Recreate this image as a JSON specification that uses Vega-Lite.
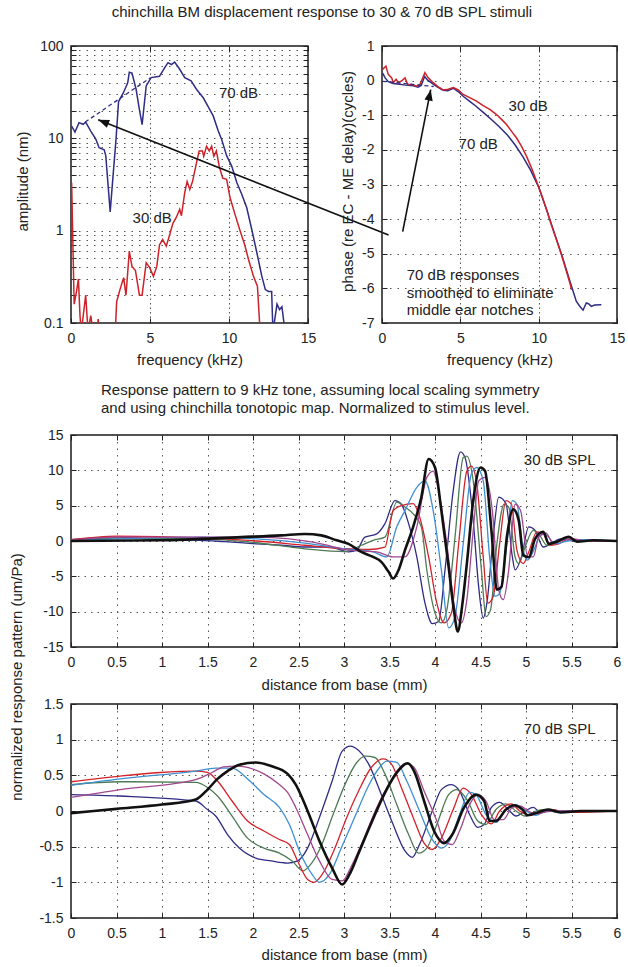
{
 "$schema": "https://vega.github.io/schema/vega-lite/v6.json",
 "padding": {"left": 8, "top": 5, "right": 5, "bottom": 5},
 "background": "white",
 "title": {"text": "chinchilla BM displacement response to 30 & 70 dB SPL stimuli", "anchor": "middle", "offset": 18, "dx": 5, "fontSize": 15, "fontWeight": "normal", "font": "Liberation Sans", "color": "#222"},
 "spacing": 14,
 "resolve": {"scale": {"color": "independent"}},
 "vconcat": [
  {"hconcat": [
   {"width": 237, "height": 277,
    "layer": [
     {"data": {"name": "ampl"}, "mark": {"type": "line", "clip": true, "strokeWidth": 1.5},
      "encoding": {
       "x": {"field": "f", "type": "quantitative", "scale": {"domain": [0, 15], "nice": false, "zero": false},
             "axis": {"values": [0, 5, 10, 15], "title": "frequency (kHz)", "titleX": 118.5, "titleY": 36, "titleBaseline": "middle", "labelExpr": "datum.value + ''", "gridDash": [1.5, 3]}},
       "y": {"field": "a", "type": "quantitative", "scale": {"type": "log", "domain": [0.1, 100], "nice": false},
             "axis": {"values": [0.1,0.2,0.3,0.4,0.5,0.6,0.7,0.8,0.9,1,2,3,4,5,6,7,8,9,10,20,30,40,50,60,70,80,90,100], "labelExpr": "indexof([0.1,1,10,100], datum.value) >= 0 ? datum.value + '' : ''", "title": "amplitude (nm)", "titleX": -49, "titleY": 135, "titleBaseline": "middle", "gridDash": [1.5, 6]}},
       "color": {"field": "level", "type": "nominal", "scale": {"domain": ["70 dB", "30 dB"], "range": ["#2E2C84", "#CC2229"]}, "legend": null}
      }},
     {"data": {"name": "amplsmooth"}, "mark": {"type": "line", "strokeWidth": 1.3, "strokeDash": [4, 3], "color": "#2E2C84"},
      "encoding": {"x": {"field": "f", "type": "quantitative", "axis": null}, "y": {"field": "a", "type": "quantitative", "axis": null}}},
     {"data": {"values": [{"f": 20.1, "a": 0.897}, {"f": 1.72, "a": 15.9}]}, "mark": {"type": "line", "clip": false, "strokeWidth": 1.6, "color": "#111"},
      "encoding": {"x": {"field": "f", "type": "quantitative", "axis": null}, "y": {"field": "a", "type": "quantitative", "axis": null}}},
     {"data": {"values": [{"f": 1.72, "a": 15.9}]}, "mark": {"type": "point", "shape": "M0,0L-0.38,1L0.38,1Z", "angle": 291.75, "size": 484, "filled": true, "color": "#111", "opacity": 1},
      "encoding": {"x": {"field": "f", "type": "quantitative", "axis": null}, "y": {"field": "a", "type": "quantitative", "axis": null}}},
     {"data": {"values": [{"f": 10.6, "a": 31, "label": "70 dB"}, {"f": 5.14, "a": 1.38, "label": "30 dB"}]}, "mark": {"type": "text", "fontSize": 15, "color": "#222"},
      "encoding": {
       "x": {"field": "f", "type": "quantitative", "axis": {"orient": "top", "values": [0, 5, 10, 15], "labels": false, "grid": false, "title": null}},
       "y": {"field": "a", "type": "quantitative", "axis": {"orient": "right", "values": [0.1,0.2,0.3,0.4,0.5,0.6,0.7,0.8,0.9,1,2,3,4,5,6,7,8,9,10,20,30,40,50,60,70,80,90,100], "labels": false, "grid": false, "title": null}},
       "text": {"field": "label"}}}
    ],
    "resolve": {"axis": {"x": "independent", "y": "independent"}}
   },
   {"width": 235, "height": 277,
    "layer": [
     {"data": {"name": "phase"}, "mark": {"type": "line", "clip": true, "strokeWidth": 1.5},
      "encoding": {
       "x": {"field": "f", "type": "quantitative", "scale": {"domain": [0, 15], "nice": false, "zero": false},
             "axis": {"values": [0, 5, 10, 15], "title": "frequency (kHz)", "titleX": 117.5, "titleY": 36, "titleBaseline": "middle", "labelExpr": "datum.value + ''", "gridDash": [1.5, 3]}},
       "y": {"field": "p", "type": "quantitative", "scale": {"domain": [-7, 1], "nice": false, "zero": false},
             "axis": {"values": [-7,-6,-5,-4,-3,-2,-1,0,1], "labelExpr": "datum.value + ''", "title": "phase (re EC - ME delay)(cycles)", "titleX": -35, "titleY": 135, "titleBaseline": "middle", "gridDash": [1.5, 6]}},
       "color": {"field": "level", "type": "nominal", "scale": {"domain": ["70 dB", "30 dB"], "range": ["#2E2C84", "#CC2229"]}, "legend": null}
      }},
     {"data": {"name": "phasesmooth"}, "mark": {"type": "line", "strokeWidth": 1.3, "strokeDash": [4, 3], "color": "#2E2C84"},
      "encoding": {"x": {"field": "f", "type": "quantitative", "axis": null}, "y": {"field": "p", "type": "quantitative", "axis": null}}},
     {"data": {"values": [{"f": 1.32, "p": -4.36}, {"f": 3.11, "p": -0.26}]}, "mark": {"type": "line", "clip": false, "strokeWidth": 1.6, "color": "#111"},
      "encoding": {"x": {"field": "f", "type": "quantitative", "axis": null}, "y": {"field": "p", "type": "quantitative", "axis": null}}},
     {"data": {"values": [{"f": 3.11, "p": -0.26}]}, "mark": {"type": "point", "shape": "M0,0L-0.38,1L0.38,1Z", "angle": 11.2, "size": 484, "filled": true, "color": "#111", "opacity": 1},
      "encoding": {"x": {"field": "f", "type": "quantitative", "axis": null}, "y": {"field": "p", "type": "quantitative", "axis": null}}},
     {"data": {"values": [{"f": 1.58, "p": -5.61, "label": "70 dB responses\nsmoothed to eliminate\nmiddle ear notches"}]}, "mark": {"type": "text", "fontSize": 15, "color": "#222", "align": "left", "baseline": "middle", "lineBreak": "\n", "lineHeight": 17.7},
      "encoding": {"x": {"field": "f", "type": "quantitative", "axis": null}, "y": {"field": "p", "type": "quantitative", "axis": null}, "text": {"field": "label"}}},
     {"data": {"values": [{"f": 9.33, "p": -0.72, "label": "30 dB"}, {"f": 6.14, "p": -1.84, "label": "70 dB"}]}, "mark": {"type": "text", "fontSize": 15, "color": "#222"},
      "encoding": {
       "x": {"field": "f", "type": "quantitative", "axis": {"orient": "top", "values": [0, 5, 10, 15], "labels": false, "grid": false, "title": null}},
       "y": {"field": "p", "type": "quantitative", "axis": {"orient": "right", "values": [-7,-6,-5,-4,-3,-2,-1,0,1], "labels": false, "grid": false, "title": null}},
       "text": {"field": "label"}}}
    ],
    "resolve": {"axis": {"x": "independent", "y": "independent"}}
   }
  ], "spacing": 74, "bounds": "flush"},
  {"vconcat": [
   {"width": 546, "height": 212,
    "title": {"text": ["Response pattern to 9 kHz tone, assuming local scaling symmetry", "and using chinchilla tonotopic map. Normalized to stimulus level."], "anchor": "start", "frame": "group", "dx": 30, "offset": 12, "fontSize": 15, "lineHeight": 18, "fontWeight": "normal", "color": "#222"},
    "layer": [
     {"data": {"name": "p30"}, "transform": [{"filter": "datum.t != 't6'"}], "mark": {"type": "line", "clip": true, "strokeWidth": 1.3, "interpolate": "monotone"},
      "encoding": {
       "x": {"field": "d", "type": "quantitative", "scale": {"domain": [0, 6], "nice": false, "zero": false},
             "axis": {"values": [0,0.5,1,1.5,2,2.5,3,3.5,4,4.5,5,5.5,6], "title": "distance from base (mm)", "titleX": 273, "titleY": 37, "titleBaseline": "middle", "labelExpr": "datum.value + ''"}},
       "y": {"field": "v", "type": "quantitative", "scale": {"domain": [-15, 15], "nice": false, "zero": false},
             "axis": {"values": [-15,-10,-5,0,5,10,15], "labelExpr": "datum.value + ''", "title": "normalized response pattern (um/Pa)", "titleX": -55, "titleY": 241.5, "titleBaseline": "middle"}},
       "color": {"field": "t", "type": "nominal", "scale": {"domain": ["t1", "t2", "t3", "t4", "t5"], "range": ["#2E2C84", "#4D7B55", "#D2232A", "#3D8FD1", "#A2478F"]}, "legend": null}
      }},
     {"data": {"name": "p30"}, "transform": [{"filter": "datum.t == 't6'"}], "mark": {"type": "line", "clip": true, "strokeWidth": 2.6, "color": "#111", "interpolate": "monotone"},
      "encoding": {"x": {"field": "d", "type": "quantitative", "axis": null}, "y": {"field": "v", "type": "quantitative", "axis": null}}},
     {"data": {"values": [{"d": 5.37, "v": 11.4, "label": "30 dB SPL"}]}, "mark": {"type": "text", "fontSize": 15, "color": "#222"},
      "encoding": {
       "x": {"field": "d", "type": "quantitative", "axis": {"orient": "top", "values": [0,0.5,1,1.5,2,2.5,3,3.5,4,4.5,5,5.5,6], "labels": false, "grid": false, "title": null}},
       "y": {"field": "v", "type": "quantitative", "axis": {"orient": "right", "values": [-15,-10,-5,0,5,10,15], "labels": false, "grid": false, "title": null}},
       "text": {"field": "label"}}}
    ],
    "resolve": {"axis": {"x": "independent", "y": "independent"}}
   },
   {"width": 546, "height": 214,
    "layer": [
     {"data": {"name": "p70"}, "transform": [{"filter": "datum.t != 't6'"}], "mark": {"type": "line", "clip": true, "strokeWidth": 1.3, "interpolate": "monotone"},
      "encoding": {
       "x": {"field": "d", "type": "quantitative", "scale": {"domain": [0, 6], "nice": false, "zero": false},
             "axis": {"values": [0,0.5,1,1.5,2,2.5,3,3.5,4,4.5,5,5.5,6], "title": "distance from base (mm)", "titleX": 273, "titleY": 36, "titleBaseline": "middle", "labelExpr": "datum.value + ''"}},
       "y": {"field": "v", "type": "quantitative", "scale": {"domain": [-1.5, 1.5], "nice": false, "zero": false},
             "axis": {"values": [-1.5,-1,-0.5,0,0.5,1,1.5], "labelExpr": "datum.value + ''", "title": null}},
       "color": {"field": "t", "type": "nominal", "scale": {"domain": ["t1", "t2", "t3", "t4", "t5"], "range": ["#2E2C84", "#4D7B55", "#D2232A", "#3D8FD1", "#A2478F"]}, "legend": null}
      }},
     {"data": {"name": "p70"}, "transform": [{"filter": "datum.t == 't6'"}], "mark": {"type": "line", "clip": true, "strokeWidth": 2.6, "color": "#111", "interpolate": "monotone"},
      "encoding": {"x": {"field": "d", "type": "quantitative", "axis": null}, "y": {"field": "v", "type": "quantitative", "axis": null}}},
     {"data": {"values": [{"d": 5.37, "v": 1.15, "label": "70 dB SPL"}]}, "mark": {"type": "text", "fontSize": 15, "color": "#222"},
      "encoding": {
       "x": {"field": "d", "type": "quantitative", "axis": {"orient": "top", "values": [0,0.5,1,1.5,2,2.5,3,3.5,4,4.5,5,5.5,6], "labels": false, "grid": false, "title": null}},
       "y": {"field": "v", "type": "quantitative", "axis": {"orient": "right", "values": [-1.5,-1,-0.5,0,0.5,1,1.5], "labels": false, "grid": false, "title": null}},
       "text": {"field": "label"}}}
    ],
    "resolve": {"axis": {"x": "independent", "y": "independent"}}
   }
  ], "spacing": 57, "bounds": "flush"}
 ],
 "datasets": {
  "ampl": [
   {"level":"70 dB","f":0.04,"a":13.6},{"level":"70 dB","f":0.25,"a":11.7},{"level":"70 dB","f":0.51,"a":14.8},{"level":"70 dB","f":0.76,"a":14.2},{"level":"70 dB","f":0.93,"a":15.0},{"level":"70 dB","f":1.25,"a":12.0},{"level":"70 dB","f":1.57,"a":9.8},{"level":"70 dB","f":1.78,"a":7.9},{"level":"70 dB","f":2.1,"a":7.5},{"level":"70 dB","f":2.2,"a":6.5},{"level":"70 dB","f":2.48,"a":1.6},{"level":"70 dB","f":2.68,"a":4.3},{"level":"70 dB","f":2.85,"a":9.8},{"level":"70 dB","f":3.01,"a":25},{"level":"70 dB","f":3.31,"a":31},{"level":"70 dB","f":3.59,"a":40},{"level":"70 dB","f":3.69,"a":52},{"level":"70 dB","f":3.86,"a":51},{"level":"70 dB","f":4.12,"a":34},{"level":"70 dB","f":4.33,"a":20.5},{"level":"70 dB","f":4.5,"a":14.1},{"level":"70 dB","f":4.76,"a":37},{"level":"70 dB","f":5.07,"a":45.5},{"level":"70 dB","f":5.6,"a":47},{"level":"70 dB","f":5.92,"a":58},{"level":"70 dB","f":6.14,"a":66},{"level":"70 dB","f":6.35,"a":63},{"level":"70 dB","f":6.56,"a":67},{"level":"70 dB","f":6.88,"a":56},{"level":"70 dB","f":7.2,"a":45.5},{"level":"70 dB","f":7.6,"a":42},{"level":"70 dB","f":7.94,"a":34},{"level":"70 dB","f":8.37,"a":27.5},{"level":"70 dB","f":8.68,"a":22},{"level":"70 dB","f":9.0,"a":17.5},{"level":"70 dB","f":9.32,"a":12},{"level":"70 dB","f":9.53,"a":9.8},{"level":"70 dB","f":9.85,"a":6.5},{"level":"70 dB","f":10.17,"a":5.0},{"level":"70 dB","f":10.5,"a":3.3},{"level":"70 dB","f":10.8,"a":2.5},{"level":"70 dB","f":11.12,"a":1.78},{"level":"70 dB","f":11.44,"a":1.03},{"level":"70 dB","f":11.76,"a":0.58},{"level":"70 dB","f":12.08,"a":0.32},{"level":"70 dB","f":12.3,"a":0.23},{"level":"70 dB","f":12.5,"a":0.22},{"level":"70 dB","f":12.7,"a":0.22},{"level":"70 dB","f":12.78,"a":0.08},{"level":"70 dB","f":13.04,"a":0.16},{"level":"70 dB","f":13.2,"a":0.14},{"level":"70 dB","f":13.35,"a":0.15},{"level":"70 dB","f":13.55,"a":0.08},
   {"level":"30 dB","f":0.04,"a":3.3},{"level":"30 dB","f":0.2,"a":0.16},{"level":"30 dB","f":0.35,"a":0.22},{"level":"30 dB","f":0.47,"a":0.3},{"level":"30 dB","f":0.57,"a":0.12},{"level":"30 dB","f":0.65,"a":0.08},{"level":"30 dB","f":0.93,"a":0.2},{"level":"30 dB","f":1.08,"a":0.08},{"level":"30 dB","f":1.25,"a":0.12},{"level":"30 dB","f":1.4,"a":0.08},{"level":"30 dB","f":1.65,"a":0.08},{"level":"30 dB","f":1.72,"a":0.11},{"level":"30 dB","f":1.8,"a":0.08},{"level":"30 dB","f":2.8,"a":0.08},{"level":"30 dB","f":2.89,"a":0.17},{"level":"30 dB","f":3.1,"a":0.23},{"level":"30 dB","f":3.33,"a":0.31},{"level":"30 dB","f":3.48,"a":0.2},{"level":"30 dB","f":3.69,"a":0.6},{"level":"30 dB","f":3.86,"a":0.41},{"level":"30 dB","f":4.08,"a":0.37},{"level":"30 dB","f":4.33,"a":0.2},{"level":"30 dB","f":4.5,"a":0.2},{"level":"30 dB","f":4.76,"a":0.45},{"level":"30 dB","f":4.97,"a":0.4},{"level":"30 dB","f":5.22,"a":0.32},{"level":"30 dB","f":5.43,"a":0.41},{"level":"30 dB","f":5.6,"a":0.7},{"level":"30 dB","f":5.8,"a":0.8},{"level":"30 dB","f":6.03,"a":0.68},{"level":"30 dB","f":6.28,"a":0.95},{"level":"30 dB","f":6.45,"a":1.2},{"level":"30 dB","f":6.67,"a":1.4},{"level":"30 dB","f":6.88,"a":1.7},{"level":"30 dB","f":6.99,"a":1.45},{"level":"30 dB","f":7.2,"a":2.6},{"level":"30 dB","f":7.35,"a":3.4},{"level":"30 dB","f":7.52,"a":2.8},{"level":"30 dB","f":7.69,"a":3.4},{"level":"30 dB","f":7.94,"a":5.4},{"level":"30 dB","f":8.11,"a":7.3},{"level":"30 dB","f":8.32,"a":7.3},{"level":"30 dB","f":8.4,"a":6.4},{"level":"30 dB","f":8.58,"a":8.2},{"level":"30 dB","f":8.75,"a":7.3},{"level":"30 dB","f":8.9,"a":8.2},{"level":"30 dB","f":9.04,"a":6.4},{"level":"30 dB","f":9.2,"a":7.3},{"level":"30 dB","f":9.38,"a":5.0},{"level":"30 dB","f":9.6,"a":3.7},{"level":"30 dB","f":9.85,"a":3.6},{"level":"30 dB","f":10.06,"a":2.3},{"level":"30 dB","f":10.38,"a":1.5},{"level":"30 dB","f":10.7,"a":1.0},{"level":"30 dB","f":11.0,"a":0.7},{"level":"30 dB","f":11.23,"a":0.49},{"level":"30 dB","f":11.55,"a":0.32},{"level":"30 dB","f":11.8,"a":0.25},{"level":"30 dB","f":11.97,"a":0.08}
  ],
  "amplsmooth": [{"f":0.9,"a":15},{"f":5.0,"a":45}],
  "phase": [
   {"level":"70 dB","f":0.04,"p":0.22},{"level":"70 dB","f":0.2,"p":0.08},{"level":"70 dB","f":0.4,"p":-0.03},{"level":"70 dB","f":0.7,"p":-0.08},{"level":"70 dB","f":1.0,"p":-0.1},{"level":"70 dB","f":1.5,"p":-0.13},{"level":"70 dB","f":2.0,"p":-0.15},{"level":"70 dB","f":2.3,"p":-0.19},{"level":"70 dB","f":2.5,"p":-0.14},{"level":"70 dB","f":2.72,"p":0.12},{"level":"70 dB","f":2.9,"p":0.02},{"level":"70 dB","f":3.2,"p":-0.08},{"level":"70 dB","f":3.5,"p":-0.17},{"level":"70 dB","f":3.9,"p":-0.28},{"level":"70 dB","f":4.2,"p":-0.29},{"level":"70 dB","f":4.55,"p":-0.22},{"level":"70 dB","f":4.9,"p":-0.33},{"level":"70 dB","f":5.2,"p":-0.46},{"level":"70 dB","f":5.6,"p":-0.6},{"level":"70 dB","f":6.0,"p":-0.74},{"level":"70 dB","f":6.5,"p":-0.93},{"level":"70 dB","f":7.0,"p":-1.13},{"level":"70 dB","f":7.5,"p":-1.34},{"level":"70 dB","f":8.0,"p":-1.57},{"level":"70 dB","f":8.5,"p":-1.86},{"level":"70 dB","f":9.0,"p":-2.2},{"level":"70 dB","f":9.5,"p":-2.6},{"level":"70 dB","f":10.0,"p":-3.08},{"level":"70 dB","f":10.5,"p":-3.72},{"level":"70 dB","f":11.0,"p":-4.4},{"level":"70 dB","f":11.5,"p":-5.07},{"level":"70 dB","f":12.0,"p":-5.8},{"level":"70 dB","f":12.4,"p":-6.37},{"level":"70 dB","f":12.6,"p":-6.5},{"level":"70 dB","f":12.83,"p":-6.63},{"level":"70 dB","f":13.04,"p":-6.42},{"level":"70 dB","f":13.2,"p":-6.45},{"level":"70 dB","f":13.36,"p":-6.52},{"level":"70 dB","f":13.57,"p":-6.48},{"level":"70 dB","f":14.0,"p":-6.47},
   {"level":"30 dB","f":0.04,"p":0.325},{"level":"30 dB","f":0.25,"p":0.42},{"level":"30 dB","f":0.4,"p":0.18},{"level":"30 dB","f":0.62,"p":0.08},{"level":"30 dB","f":0.72,"p":-0.06},{"level":"30 dB","f":0.9,"p":0.04},{"level":"30 dB","f":1.04,"p":-0.06},{"level":"30 dB","f":1.25,"p":-0.01},{"level":"30 dB","f":1.47,"p":0.08},{"level":"30 dB","f":1.64,"p":-0.11},{"level":"30 dB","f":1.9,"p":-0.11},{"level":"30 dB","f":2.2,"p":-0.16},{"level":"30 dB","f":2.42,"p":-0.11},{"level":"30 dB","f":2.74,"p":0.23},{"level":"30 dB","f":2.95,"p":0.08},{"level":"30 dB","f":3.27,"p":-0.06},{"level":"30 dB","f":3.59,"p":-0.18},{"level":"30 dB","f":3.91,"p":-0.27},{"level":"30 dB","f":4.23,"p":-0.25},{"level":"30 dB","f":4.55,"p":-0.2},{"level":"30 dB","f":4.87,"p":-0.27},{"level":"30 dB","f":5.18,"p":-0.4},{"level":"30 dB","f":5.6,"p":-0.49},{"level":"30 dB","f":6.03,"p":-0.59},{"level":"30 dB","f":6.46,"p":-0.72},{"level":"30 dB","f":6.88,"p":-0.83},{"level":"30 dB","f":7.31,"p":-0.98},{"level":"30 dB","f":7.63,"p":-1.12},{"level":"30 dB","f":7.95,"p":-1.27},{"level":"30 dB","f":8.26,"p":-1.46},{"level":"30 dB","f":8.58,"p":-1.65},{"level":"30 dB","f":8.9,"p":-1.89},{"level":"30 dB","f":9.22,"p":-2.18},{"level":"30 dB","f":9.54,"p":-2.52},{"level":"30 dB","f":9.86,"p":-2.9},{"level":"30 dB","f":10.18,"p":-3.29},{"level":"30 dB","f":10.5,"p":-3.72},{"level":"30 dB","f":10.81,"p":-4.16},{"level":"30 dB","f":11.13,"p":-4.59},{"level":"30 dB","f":11.45,"p":-5.02},{"level":"30 dB","f":11.77,"p":-5.51},{"level":"30 dB","f":12.02,"p":-5.89},{"level":"30 dB","f":12.1,"p":-6.04}
  ],
  "phasesmooth": [{"f":0.04,"p":-0.02},{"f":3.3,"p":-0.17}],
  "p30": [
   {"t":"t1","d":0,"v":0.2},{"t":"t1","d":0.5,"v":0.55},{"t":"t1","d":0.99,"v":0.2},{"t":"t1","d":1.43,"v":0.1},{"t":"t1","d":1.69,"v":-0.1},{"t":"t1","d":2.04,"v":-0.4},{"t":"t1","d":2.31,"v":-0.6},{"t":"t1","d":2.57,"v":-0.85},{"t":"t1","d":2.84,"v":-0.85},{"t":"t1","d":3.05,"v":-1.55},{"t":"t1","d":3.14,"v":-1.3},{"t":"t1","d":3.23,"v":0.55},{"t":"t1","d":3.36,"v":1.0},{"t":"t1","d":3.45,"v":2.45},{"t":"t1","d":3.56,"v":5.7},{"t":"t1","d":3.63,"v":5.2},{"t":"t1","d":3.71,"v":2.45},{"t":"t1","d":3.8,"v":-2.25},{"t":"t1","d":3.89,"v":-8.8},{"t":"t1","d":3.97,"v":-11.7},{"t":"t1","d":4.04,"v":-11.4},{"t":"t1","d":4.11,"v":-4.1},{"t":"t1","d":4.2,"v":7.1},{"t":"t1","d":4.28,"v":12.6},{"t":"t1","d":4.33,"v":11.8},{"t":"t1","d":4.42,"v":2.9},{"t":"t1","d":4.48,"v":-6.5},{"t":"t1","d":4.53,"v":-10.9},{"t":"t1","d":4.57,"v":-8.8},{"t":"t1","d":4.64,"v":0.6},{"t":"t1","d":4.7,"v":6.2},{"t":"t1","d":4.78,"v":5.3},{"t":"t1","d":4.85,"v":-2.25},{"t":"t1","d":4.88,"v":-4.1},{"t":"t1","d":4.95,"v":-2.25},{"t":"t1","d":5.03,"v":2.0},{"t":"t1","d":5.1,"v":1.5},{"t":"t1","d":5.19,"v":-0.85},{"t":"t1","d":5.27,"v":-0.4},{"t":"t1","d":5.38,"v":0.3},{"t":"t1","d":5.52,"v":0},{"t":"t1","d":6,"v":0},
   {"t":"t2","d":0,"v":0.1},{"t":"t2","d":0.5,"v":0.4},{"t":"t2","d":1.43,"v":0.3},{"t":"t2","d":2.04,"v":-0.25},{"t":"t2","d":2.57,"v":-1.1},{"t":"t2","d":3.01,"v":-1.5},{"t":"t2","d":3.19,"v":-0.6},{"t":"t2","d":3.32,"v":0.1},{"t":"t2","d":3.45,"v":0.55},{"t":"t2","d":3.58,"v":5.5},{"t":"t2","d":3.67,"v":4.8},{"t":"t2","d":3.76,"v":3.85},{"t":"t2","d":3.85,"v":2.0},{"t":"t2","d":3.91,"v":-4.1},{"t":"t2","d":4.0,"v":-10.2},{"t":"t2","d":4.07,"v":-11.6},{"t":"t2","d":4.13,"v":-9.75},{"t":"t2","d":4.22,"v":0.55},{"t":"t2","d":4.31,"v":11.8},{"t":"t2","d":4.35,"v":12.0},{"t":"t2","d":4.42,"v":8.5},{"t":"t2","d":4.51,"v":-4.1},{"t":"t2","d":4.56,"v":-10.7},{"t":"t2","d":4.61,"v":-9.75},{"t":"t2","d":4.68,"v":-0.4},{"t":"t2","d":4.76,"v":5.2},{"t":"t2","d":4.81,"v":4.8},{"t":"t2","d":4.88,"v":-2.25},{"t":"t2","d":4.92,"v":-3.2},{"t":"t2","d":4.99,"v":-0.85},{"t":"t2","d":5.08,"v":1.5},{"t":"t2","d":5.14,"v":1.0},{"t":"t2","d":5.23,"v":-0.6},{"t":"t2","d":5.32,"v":-0.3},{"t":"t2","d":5.43,"v":0.3},{"t":"t2","d":5.56,"v":0},{"t":"t2","d":6,"v":0},
   {"t":"t3","d":0,"v":0.2},{"t":"t3","d":0.5,"v":0.7},{"t":"t3","d":1.43,"v":0.45},{"t":"t3","d":2.04,"v":0},{"t":"t3","d":2.57,"v":-0.6},{"t":"t3","d":3.01,"v":-1.1},{"t":"t3","d":3.27,"v":-1.2},{"t":"t3","d":3.45,"v":-0.85},{"t":"t3","d":3.54,"v":4.3},{"t":"t3","d":3.63,"v":5.0},{"t":"t3","d":3.76,"v":5.3},{"t":"t3","d":3.82,"v":3.85},{"t":"t3","d":3.93,"v":-2.25},{"t":"t3","d":4.02,"v":-8.8},{"t":"t3","d":4.1,"v":-11.6},{"t":"t3","d":4.18,"v":-10.2},{"t":"t3","d":4.26,"v":-0.4},{"t":"t3","d":4.35,"v":9.9},{"t":"t3","d":4.4,"v":10.6},{"t":"t3","d":4.46,"v":8.0},{"t":"t3","d":4.53,"v":-2.25},{"t":"t3","d":4.58,"v":-8.8},{"t":"t3","d":4.64,"v":-7.85},{"t":"t3","d":4.71,"v":-0.4},{"t":"t3","d":4.78,"v":5.7},{"t":"t3","d":4.84,"v":5.2},{"t":"t3","d":4.9,"v":-1.3},{"t":"t3","d":4.97,"v":-3.2},{"t":"t3","d":5.03,"v":-1.55},{"t":"t3","d":5.12,"v":1.3},{"t":"t3","d":5.19,"v":1.0},{"t":"t3","d":5.27,"v":-0.6},{"t":"t3","d":5.36,"v":-0.4},{"t":"t3","d":5.47,"v":0.3},{"t":"t3","d":5.6,"v":0},{"t":"t3","d":6,"v":0},
   {"t":"t4","d":0,"v":0.1},{"t":"t4","d":0.5,"v":0.3},{"t":"t4","d":1.43,"v":0.55},{"t":"t4","d":2.04,"v":0.3},{"t":"t4","d":2.57,"v":-0.3},{"t":"t4","d":3.01,"v":-1.1},{"t":"t4","d":3.32,"v":-1.55},{"t":"t4","d":3.47,"v":-2.25},{"t":"t4","d":3.58,"v":2.0},{"t":"t4","d":3.67,"v":4.3},{"t":"t4","d":3.8,"v":7.6},{"t":"t4","d":3.89,"v":8.5},{"t":"t4","d":3.98,"v":4.3},{"t":"t4","d":4.07,"v":-4.1},{"t":"t4","d":4.15,"v":-12.3},{"t":"t4","d":4.22,"v":-10.7},{"t":"t4","d":4.31,"v":-0.4},{"t":"t4","d":4.4,"v":9.5},{"t":"t4","d":4.46,"v":10.4},{"t":"t4","d":4.53,"v":8.5},{"t":"t4","d":4.6,"v":-2.25},{"t":"t4","d":4.66,"v":-7.85},{"t":"t4","d":4.71,"v":-7.4},{"t":"t4","d":4.79,"v":-0.4},{"t":"t4","d":4.85,"v":5.7},{"t":"t4","d":4.9,"v":5.2},{"t":"t4","d":4.97,"v":-1.3},{"t":"t4","d":5.02,"v":-2.7},{"t":"t4","d":5.1,"v":-0.85},{"t":"t4","d":5.16,"v":1.0},{"t":"t4","d":5.23,"v":0.8},{"t":"t4","d":5.32,"v":-0.4},{"t":"t4","d":5.43,"v":-0.1},{"t":"t4","d":5.56,"v":0.2},{"t":"t4","d":6,"v":0},
   {"t":"t5","d":0,"v":0.1},{"t":"t5","d":0.5,"v":0.55},{"t":"t5","d":1.43,"v":0.55},{"t":"t5","d":2.04,"v":0.55},{"t":"t5","d":2.4,"v":0.3},{"t":"t5","d":2.75,"v":-0.4},{"t":"t5","d":3.05,"v":-1.3},{"t":"t5","d":3.36,"v":-1.55},{"t":"t5","d":3.54,"v":-2.25},{"t":"t5","d":3.67,"v":-2.25},{"t":"t5","d":3.8,"v":2.0},{"t":"t5","d":3.91,"v":9.0},{"t":"t5","d":3.98,"v":9.9},{"t":"t5","d":4.04,"v":7.1},{"t":"t5","d":4.13,"v":-0.4},{"t":"t5","d":4.22,"v":-9.75},{"t":"t5","d":4.29,"v":-11.6},{"t":"t5","d":4.35,"v":-8.3},{"t":"t5","d":4.42,"v":1.5},{"t":"t5","d":4.48,"v":8.5},{"t":"t5","d":4.55,"v":9.0},{"t":"t5","d":4.63,"v":4.3},{"t":"t5","d":4.7,"v":-6.9},{"t":"t5","d":4.75,"v":-8.3},{"t":"t5","d":4.81,"v":-4.1},{"t":"t5","d":4.88,"v":5.2},{"t":"t5","d":4.94,"v":4.3},{"t":"t5","d":5.02,"v":-2.25},{"t":"t5","d":5.08,"v":-2.25},{"t":"t5","d":5.14,"v":0.55},{"t":"t5","d":5.22,"v":1.1},{"t":"t5","d":5.3,"v":-0.4},{"t":"t5","d":5.38,"v":0},{"t":"t5","d":5.52,"v":0.3},{"t":"t5","d":5.65,"v":0},{"t":"t5","d":6,"v":0},
   {"t":"t6","d":0,"v":0},{"t":"t6","d":0.99,"v":0.1},{"t":"t6","d":1.87,"v":0.55},{"t":"t6","d":2.31,"v":0.8},{"t":"t6","d":2.57,"v":1.0},{"t":"t6","d":2.75,"v":0.8},{"t":"t6","d":2.92,"v":0.1},{"t":"t6","d":3.05,"v":-0.4},{"t":"t6","d":3.19,"v":-1.55},{"t":"t6","d":3.32,"v":-2.25},{"t":"t6","d":3.41,"v":-2.95},{"t":"t6","d":3.49,"v":-4.36},{"t":"t6","d":3.54,"v":-5.3},{"t":"t6","d":3.6,"v":-4.1},{"t":"t6","d":3.67,"v":-1.3},{"t":"t6","d":3.76,"v":2.0},{"t":"t6","d":3.85,"v":6.2},{"t":"t6","d":3.93,"v":11.6},{"t":"t6","d":4.0,"v":10.4},{"t":"t6","d":4.07,"v":4.3},{"t":"t6","d":4.15,"v":-3.7},{"t":"t6","d":4.21,"v":-10.0},{"t":"t6","d":4.25,"v":-12.8},{"t":"t6","d":4.3,"v":-9.0},{"t":"t6","d":4.35,"v":-3.2},{"t":"t6","d":4.42,"v":5.7},{"t":"t6","d":4.5,"v":10.4},{"t":"t6","d":4.55,"v":9.9},{"t":"t6","d":4.62,"v":1.5},{"t":"t6","d":4.68,"v":-6.9},{"t":"t6","d":4.73,"v":-6.5},{"t":"t6","d":4.79,"v":0.6},{"t":"t6","d":4.86,"v":4.5},{"t":"t6","d":4.92,"v":2.9},{"t":"t6","d":4.97,"v":-2.0},{"t":"t6","d":5.03,"v":-2.3},{"t":"t6","d":5.1,"v":0.3},{"t":"t6","d":5.19,"v":1.3},{"t":"t6","d":5.25,"v":-0.4},{"t":"t6","d":5.34,"v":-0.1},{"t":"t6","d":5.47,"v":0.6},{"t":"t6","d":5.56,"v":-0.1},{"t":"t6","d":5.74,"v":0.1},{"t":"t6","d":6,"v":0}
  ],
  "p70": [
   {"t":"t1","d":0,"v":0.23},{"t":"t1","d":0.54,"v":0.21},{"t":"t1","d":1.37,"v":0.14},{"t":"t1","d":1.5,"v":0.02},{"t":"t1","d":1.59,"v":-0.07},{"t":"t1","d":1.72,"v":-0.33},{"t":"t1","d":1.85,"v":-0.52},{"t":"t1","d":2.03,"v":-0.66},{"t":"t1","d":2.2,"v":-0.7},{"t":"t1","d":2.38,"v":-0.73},{"t":"t1","d":2.49,"v":-0.7},{"t":"t1","d":2.6,"v":-0.52},{"t":"t1","d":2.73,"v":-0.09},{"t":"t1","d":2.87,"v":0.42},{"t":"t1","d":2.98,"v":0.84},{"t":"t1","d":3.07,"v":0.91},{"t":"t1","d":3.13,"v":0.88},{"t":"t1","d":3.27,"v":0.66},{"t":"t1","d":3.41,"v":0.23},{"t":"t1","d":3.54,"v":-0.19},{"t":"t1","d":3.67,"v":-0.56},{"t":"t1","d":3.75,"v":-0.65},{"t":"t1","d":3.83,"v":-0.47},{"t":"t1","d":3.97,"v":0.0},{"t":"t1","d":4.07,"v":0.3},{"t":"t1","d":4.18,"v":0.37},{"t":"t1","d":4.27,"v":0.28},{"t":"t1","d":4.38,"v":-0.05},{"t":"t1","d":4.47,"v":-0.23},{"t":"t1","d":4.54,"v":-0.19},{"t":"t1","d":4.62,"v":0.05},{"t":"t1","d":4.71,"v":0.12},{"t":"t1","d":4.82,"v":0.0},{"t":"t1","d":4.89,"v":-0.07},{"t":"t1","d":4.99,"v":0.0},{"t":"t1","d":5.08,"v":0.05},{"t":"t1","d":5.16,"v":-0.02},{"t":"t1","d":5.3,"v":0.0},{"t":"t1","d":6,"v":0.0},
   {"t":"t2","d":0,"v":0.37},{"t":"t2","d":0.54,"v":0.41},{"t":"t2","d":1.37,"v":0.4},{"t":"t2","d":1.5,"v":0.33},{"t":"t2","d":1.61,"v":0.21},{"t":"t2","d":1.78,"v":-0.09},{"t":"t2","d":1.94,"v":-0.38},{"t":"t2","d":2.12,"v":-0.52},{"t":"t2","d":2.29,"v":-0.59},{"t":"t2","d":2.43,"v":-0.7},{"t":"t2","d":2.55,"v":-0.84},{"t":"t2","d":2.62,"v":-0.77},{"t":"t2","d":2.75,"v":-0.49},{"t":"t2","d":2.88,"v":-0.05},{"t":"t2","d":3.01,"v":0.37},{"t":"t2","d":3.14,"v":0.68},{"t":"t2","d":3.23,"v":0.77},{"t":"t2","d":3.34,"v":0.75},{"t":"t2","d":3.45,"v":0.52},{"t":"t2","d":3.58,"v":0.09},{"t":"t2","d":3.71,"v":-0.33},{"t":"t2","d":3.82,"v":-0.59},{"t":"t2","d":3.91,"v":-0.52},{"t":"t2","d":4.02,"v":-0.19},{"t":"t2","d":4.15,"v":0.23},{"t":"t2","d":4.24,"v":0.3},{"t":"t2","d":4.36,"v":0.14},{"t":"t2","d":4.47,"v":-0.14},{"t":"t2","d":4.56,"v":-0.19},{"t":"t2","d":4.67,"v":0.02},{"t":"t2","d":4.78,"v":0.1},{"t":"t2","d":4.89,"v":0.0},{"t":"t2","d":4.99,"v":-0.07},{"t":"t2","d":5.11,"v":0.0},{"t":"t2","d":5.2,"v":0.02},{"t":"t2","d":5.34,"v":-0.02},{"t":"t2","d":6,"v":0},
   {"t":"t3","d":0,"v":0.41},{"t":"t3","d":0.54,"v":0.49},{"t":"t3","d":0.98,"v":0.54},{"t":"t3","d":1.37,"v":0.56},{"t":"t3","d":1.5,"v":0.54},{"t":"t3","d":1.61,"v":0.42},{"t":"t3","d":1.77,"v":0.14},{"t":"t3","d":1.94,"v":-0.14},{"t":"t3","d":2.12,"v":-0.28},{"t":"t3","d":2.29,"v":-0.4},{"t":"t3","d":2.4,"v":-0.47},{"t":"t3","d":2.49,"v":-0.7},{"t":"t3","d":2.6,"v":-0.96},{"t":"t3","d":2.67,"v":-1.0},{"t":"t3","d":2.76,"v":-0.89},{"t":"t3","d":2.9,"v":-0.52},{"t":"t3","d":3.03,"v":-0.09},{"t":"t3","d":3.16,"v":0.28},{"t":"t3","d":3.3,"v":0.61},{"t":"t3","d":3.43,"v":0.73},{"t":"t3","d":3.52,"v":0.66},{"t":"t3","d":3.63,"v":0.33},{"t":"t3","d":3.76,"v":-0.09},{"t":"t3","d":3.88,"v":-0.45},{"t":"t3","d":3.97,"v":-0.54},{"t":"t3","d":4.07,"v":-0.38},{"t":"t3","d":4.2,"v":0.02},{"t":"t3","d":4.31,"v":0.32},{"t":"t3","d":4.4,"v":0.23},{"t":"t3","d":4.51,"v":-0.05},{"t":"t3","d":4.62,"v":-0.18},{"t":"t3","d":4.71,"v":0.0},{"t":"t3","d":4.84,"v":0.1},{"t":"t3","d":4.93,"v":0.0},{"t":"t3","d":5.05,"v":-0.06},{"t":"t3","d":5.16,"v":0.0},{"t":"t3","d":5.3,"v":0.02},{"t":"t3","d":5.43,"v":-0.02},{"t":"t3","d":6,"v":0},
   {"t":"t4","d":0,"v":0.36},{"t":"t4","d":0.54,"v":0.45},{"t":"t4","d":1.37,"v":0.56},{"t":"t4","d":1.59,"v":0.6},{"t":"t4","d":1.77,"v":0.6},{"t":"t4","d":1.94,"v":0.45},{"t":"t4","d":2.12,"v":0.23},{"t":"t4","d":2.29,"v":0.05},{"t":"t4","d":2.4,"v":-0.19},{"t":"t4","d":2.51,"v":-0.56},{"t":"t4","d":2.65,"v":-0.89},{"t":"t4","d":2.73,"v":-1.0},{"t":"t4","d":2.84,"v":-0.89},{"t":"t4","d":2.97,"v":-0.52},{"t":"t4","d":3.13,"v":-0.05},{"t":"t4","d":3.26,"v":0.33},{"t":"t4","d":3.39,"v":0.61},{"t":"t4","d":3.47,"v":0.7},{"t":"t4","d":3.58,"v":0.68},{"t":"t4","d":3.69,"v":0.42},{"t":"t4","d":3.83,"v":0.0},{"t":"t4","d":3.96,"v":-0.38},{"t":"t4","d":4.07,"v":-0.52},{"t":"t4","d":4.16,"v":-0.42},{"t":"t4","d":4.27,"v":-0.05},{"t":"t4","d":4.38,"v":0.26},{"t":"t4","d":4.45,"v":0.23},{"t":"t4","d":4.56,"v":-0.05},{"t":"t4","d":4.67,"v":-0.16},{"t":"t4","d":4.78,"v":0.02},{"t":"t4","d":4.89,"v":0.09},{"t":"t4","d":5.0,"v":0.0},{"t":"t4","d":5.11,"v":-0.06},{"t":"t4","d":5.23,"v":0.02},{"t":"t4","d":5.38,"v":0},{"t":"t4","d":6,"v":0},
   {"t":"t5","d":0,"v":0.19},{"t":"t5","d":0.54,"v":0.3},{"t":"t5","d":1.37,"v":0.44},{"t":"t5","d":1.55,"v":0.54},{"t":"t5","d":1.68,"v":0.62},{"t":"t5","d":1.81,"v":0.63},{"t":"t5","d":1.94,"v":0.61},{"t":"t5","d":2.12,"v":0.52},{"t":"t5","d":2.29,"v":0.37},{"t":"t5","d":2.38,"v":0.26},{"t":"t5","d":2.47,"v":0.05},{"t":"t5","d":2.6,"v":-0.33},{"t":"t5","d":2.73,"v":-0.7},{"t":"t5","d":2.87,"v":-0.96},{"t":"t5","d":2.98,"v":-0.98},{"t":"t5","d":3.09,"v":-0.75},{"t":"t5","d":3.22,"v":-0.38},{"t":"t5","d":3.36,"v":0.05},{"t":"t5","d":3.49,"v":0.37},{"t":"t5","d":3.63,"v":0.63},{"t":"t5","d":3.69,"v":0.66},{"t":"t5","d":3.77,"v":0.61},{"t":"t5","d":3.88,"v":0.28},{"t":"t5","d":4.02,"v":-0.14},{"t":"t5","d":4.1,"v":-0.42},{"t":"t5","d":4.19,"v":-0.47},{"t":"t5","d":4.27,"v":-0.28},{"t":"t5","d":4.38,"v":0.09},{"t":"t5","d":4.47,"v":0.23},{"t":"t5","d":4.56,"v":0.14},{"t":"t5","d":4.65,"v":-0.12},{"t":"t5","d":4.75,"v":-0.12},{"t":"t5","d":4.85,"v":0.05},{"t":"t5","d":4.93,"v":0.07},{"t":"t5","d":5.05,"v":-0.02},{"t":"t5","d":5.14,"v":-0.04},{"t":"t5","d":5.25,"v":0},{"t":"t5","d":6,"v":0},
   {"t":"t6","d":0,"v":-0.03},{"t":"t6","d":0.5,"v":0.03},{"t":"t6","d":1.0,"v":0.09},{"t":"t6","d":1.37,"v":0.16},{"t":"t6","d":1.5,"v":0.3},{"t":"t6","d":1.61,"v":0.45},{"t":"t6","d":1.72,"v":0.56},{"t":"t6","d":1.85,"v":0.65},{"t":"t6","d":2.03,"v":0.68},{"t":"t6","d":2.2,"v":0.63},{"t":"t6","d":2.38,"v":0.52},{"t":"t6","d":2.47,"v":0.37},{"t":"t6","d":2.6,"v":0.0},{"t":"t6","d":2.73,"v":-0.42},{"t":"t6","d":2.87,"v":-0.8},{"t":"t6","d":2.98,"v":-1.03},{"t":"t6","d":3.06,"v":-0.89},{"t":"t6","d":3.17,"v":-0.56},{"t":"t6","d":3.31,"v":-0.14},{"t":"t6","d":3.44,"v":0.23},{"t":"t6","d":3.57,"v":0.52},{"t":"t6","d":3.7,"v":0.67},{"t":"t6","d":3.77,"v":0.56},{"t":"t6","d":3.88,"v":0.14},{"t":"t6","d":3.99,"v":-0.28},{"t":"t6","d":4.1,"v":-0.45},{"t":"t6","d":4.19,"v":-0.33},{"t":"t6","d":4.32,"v":0.05},{"t":"t6","d":4.45,"v":0.23},{"t":"t6","d":4.54,"v":0.14},{"t":"t6","d":4.6,"v":-0.14},{"t":"t6","d":4.67,"v":-0.14},{"t":"t6","d":4.78,"v":0.02},{"t":"t6","d":4.87,"v":0.08},{"t":"t6","d":4.96,"v":0.02},{"t":"t6","d":5.02,"v":-0.06},{"t":"t6","d":5.13,"v":-0.02},{"t":"t6","d":5.24,"v":0.02},{"t":"t6","d":5.38,"v":-0.02},{"t":"t6","d":5.6,"v":0.0},{"t":"t6","d":6,"v":0}
  ]
 },
 "config": {
  "font": "Liberation Sans",
  "view": {"stroke": "#1a1a1a", "strokeWidth": 1.5},
  "axis": {"labelFont": "Liberation Sans", "labelFontSize": 14, "labelColor": "#222", "titleFont": "Liberation Sans", "titleFontSize": 15, "titleFontWeight": "normal", "titleColor": "#222", "tickSize": -5, "tickColor": "#222", "tickWidth": 1, "domain": false, "grid": true, "gridColor": "#555", "gridDash": [1.5, 5], "gridWidth": 1, "labelFlush": false, "labelOverlap": false, "labelPadding": 13},
  "text": {"font": "Liberation Sans"}
 }
}
